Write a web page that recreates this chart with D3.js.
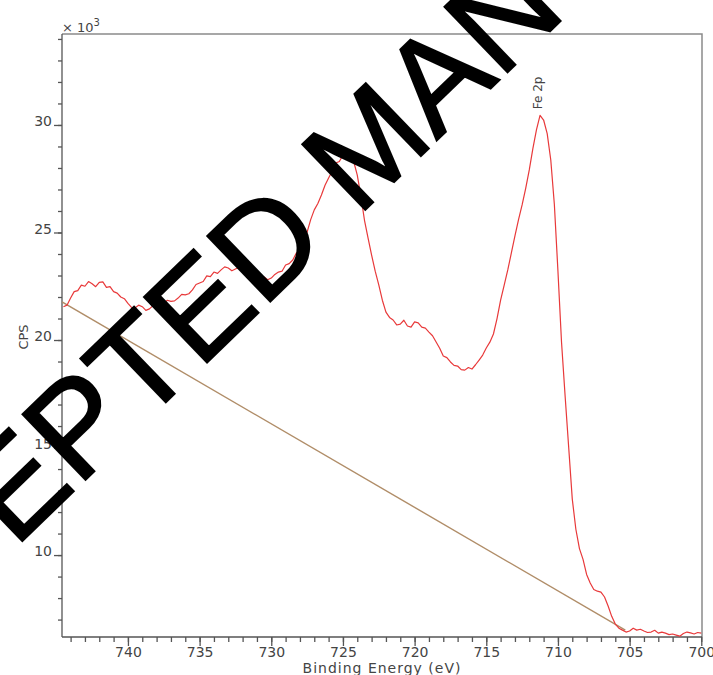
<!DOCTYPE html>
<html>
<head>
<meta charset="utf-8">
<script src="https://cdn.jsdelivr.net/npm/d3@7"></script>
<style>
  body { margin: 0; background: #fff; }
  svg { display: block; }
</style>
</head>
<body>
<div id="chart"></div>
<script>
// binding energy (eV) and counts (x 10^3 CPS)
var energy = [
  744.5, 744.25, 744, 743.75, 743.5, 743.25, 743, 742.75, 742.5, 742.25, 742, 741.75,
  741.5, 741.25, 741, 740.75, 740.5, 740.25, 740, 739.75, 739.5, 739.25, 739, 738.75,
  738.5, 738.25, 738, 737.75, 737.5, 737.25, 737, 736.75, 736.5, 736.25, 736, 735.75,
  735.5, 735.25, 735, 734.75, 734.5, 734.25, 734, 733.75, 733.5, 733.25, 733, 732.75,
  732.5, 732.25, 732, 731.75, 731.5, 731.25, 731, 730.75, 730.5, 730.25, 730, 729.75,
  729.5, 729.25, 729, 728.75, 728.5, 728.25, 728, 727.75, 727.5, 727.25, 727, 726.75,
  726.5, 726.25, 726, 725.75, 725.5, 725.25, 725, 724.75, 724.5, 724.25, 724, 723.75,
  723.5, 723.25, 723, 722.75, 722.5, 722.25, 722, 721.75, 721.5, 721.25, 721, 720.75,
  720.5, 720.25, 720, 719.75, 719.5, 719.25, 719, 718.75, 718.5, 718.25, 718, 717.75,
  717.5, 717.25, 717, 716.75, 716.5, 716.25, 716, 715.75, 715.5, 715.25, 715, 714.75,
  714.5, 714.25, 714, 713.75, 713.5, 713.25, 713, 712.75, 712.5, 712.25, 712, 711.75,
  711.5, 711.25, 711, 710.75, 710.5, 710.25, 710, 709.75, 709.5, 709.25, 709, 708.75,
  708.5, 708.25, 708, 707.75, 707.5, 707.25, 707, 706.75, 706.5, 706.25, 706, 705.75,
  705.5, 705.25, 705, 704.75, 704.5, 704.25, 704, 703.75, 703.5, 703.25, 703, 702.75,
  702.5, 702.25, 702, 701.75, 701.5, 701.25, 701, 700.75, 700.5, 700.25, 700
];
var cps = [
  21.55, 21.62, 21.95, 22.25, 22.30, 22.55, 22.50, 22.72, 22.62, 22.48, 22.68, 22.70,
  22.45, 22.48, 22.25, 22.18, 22.00, 21.92, 21.70, 21.52, 21.50, 21.62, 21.55, 21.38,
  21.45, 21.60, 21.60, 21.58, 21.70, 21.85, 21.80, 21.82, 21.95, 22.12, 22.10, 22.15,
  22.33, 22.58, 22.65, 22.72, 22.98, 22.95, 23.16, 23.10, 23.26, 23.40, 23.35, 23.22,
  23.30, 23.38, 23.26, 23.05, 22.79, 22.95, 22.74, 22.82, 22.93, 22.80, 22.88, 23.05,
  23.16, 23.20, 23.49, 23.55, 23.72, 24.05, 24.19, 24.55, 25.02, 25.60, 26.05, 26.35,
  26.74, 27.20, 27.53, 27.85, 28.23, 28.30, 28.60, 28.48, 28.51, 28.30, 27.67, 26.70,
  25.58, 24.75, 23.95, 23.20, 22.56, 21.85, 21.30, 21.05, 20.93, 20.70, 20.74, 20.92,
  20.65, 20.60, 20.84, 20.80, 20.60, 20.55, 20.37, 20.20, 19.91, 19.62, 19.26, 19.18,
  18.98, 18.82, 18.79, 18.62, 18.60, 18.72, 18.65, 18.85, 19.07, 19.30, 19.63, 19.90,
  20.28, 21.00, 21.86, 22.55, 23.26, 24.05, 24.84, 25.60, 26.28, 27.05, 27.91, 28.90,
  29.77, 30.45, 30.23, 29.60, 28.37, 26.30, 23.20, 19.90, 17.40, 15.00, 12.60, 11.20,
  10.30, 9.80, 9.10, 8.70, 8.40, 8.32, 8.28, 8.05, 7.63, 7.15, 6.79, 6.60,
  6.51, 6.42, 6.47, 6.60, 6.51, 6.55, 6.47, 6.40, 6.42, 6.50, 6.37, 6.42,
  6.37, 6.30, 6.33, 6.28, 6.23, 6.35, 6.42, 6.38, 6.33, 6.40, 6.37
];
// linear background under the Fe 2p region
var bgEnergy = [744.6, 705.3];
var bgCps = [21.77, 6.51];

var xMajor = [740, 735, 730, 725, 720, 715, 710, 705, 700];
var xMinor = d3.range(700, 745, 1);
var yMajor = [10, 15, 20, 25, 30];
var yMinor = d3.range(7, 35, 1);

var peakLabel = { text: "Fe 2p", energy: 711.37, cps: 30.5 };
var watermark = "ACCEPTED MANUSCRIPT";

(function() {
    var W = 713, H = 675;
    var svg = d3.select("#chart").append("svg")
        .attr("width", W)
        .attr("height", H);

    var pl = 62, pr = 702, pt = 34, pb = 637;

    var x = d3.scaleLinear()
        .domain([744.6, 699.95])
        .range([pl, pr]);

    var y = d3.scaleLinear()
        .domain([6.19, 34.23])
        .range([pb, pt]);

    var font = "'DejaVu Sans', Verdana, sans-serif";
    var ink = "#444";

    svg.append("defs").append("clipPath")
        .attr("id", "plot")
        .append("rect")
        .attr("x", pl)
        .attr("y", pt)
        .attr("width", pr - pl)
        .attr("height", pb - pt);

    // frame top and right
    svg.append("path")
        .attr("d", "M" + pl + "," + pt + "H" + pr + "V" + pb)
        .attr("fill", "none")
        .attr("stroke", "#8a8a8a")
        .attr("stroke-width", 1.5);

    // x axis
    var gx = svg.append("g")
        .attr("transform", "translate(0," + pb + ")");

    gx.append("g")
        .call(d3.axisBottom(x).tickValues(xMinor).tickSize(5).tickFormat(""))
        .call(function(g) { g.select(".domain").remove(); });

    gx.append("g")
        .call(d3.axisBottom(x).tickValues(xMajor).tickSize(9).tickPadding(1).tickFormat(d3.format("d")))
        .call(function(g) {
            g.select(".domain").attr("d", "M" + pl + ",0H" + pr);
        });

    gx.selectAll("line, path").attr("stroke", "#555").attr("stroke-width", 1.3);
    gx.selectAll("text")
        .attr("font-family", font)
        .attr("font-size", 14)
        .attr("fill", ink);

    // y axis
    var gy = svg.append("g")
        .attr("transform", "translate(" + pl + ",0)");

    gy.append("g")
        .call(d3.axisLeft(y).tickValues(yMinor).tickSize(4).tickFormat(""))
        .call(function(g) { g.select(".domain").remove(); });

    gy.append("g")
        .call(d3.axisLeft(y).tickValues(yMajor).tickSize(8).tickPadding(2).tickFormat(d3.format("d")))
        .call(function(g) {
            g.select(".domain").attr("d", "M0," + pb + "V" + pt);
        });

    gy.selectAll("line, path").attr("stroke", "#555").attr("stroke-width", 1.3);
    gy.selectAll("text")
        .attr("font-family", font)
        .attr("font-size", 14)
        .attr("fill", ink)
        .attr("dy", "0.05em");

    // axis titles
    svg.append("text")
        .attr("x", (pl + pr) / 2)
        .attr("y", 673)
        .attr("text-anchor", "middle")
        .attr("font-family", font)
        .attr("font-size", 14)
        .attr("letter-spacing", 1)
        .attr("fill", ink)
        .text("Binding Energy (eV)");

    svg.append("text")
        .attr("transform", "translate(28,337) rotate(-90)")
        .attr("text-anchor", "middle")
        .attr("font-family", font)
        .attr("font-size", 13)
        .attr("fill", ink)
        .text("CPS");

    var mult = svg.append("text")
        .attr("x", pl)
        .attr("y", 32)
        .attr("font-family", font)
        .attr("font-size", 13)
        .attr("fill", ink);
    mult.append("tspan").text("\u00d7 10");
    mult.append("tspan").attr("dy", -6).attr("font-size", 10).text("3");

    // lines
    var plot = svg.append("g").attr("clip-path", "url(#plot)");

    var line = d3.line()
        .x(function(d) { return x(d[0]); })
        .y(function(d) { return y(d[1]); });

    plot.append("path")
        .datum(d3.zip(bgEnergy, bgCps))
        .attr("fill", "none")
        .attr("stroke", "#b08d68")
        .attr("stroke-width", 1.4)
        .attr("d", line);

    plot.append("path")
        .datum(d3.zip(energy, cps))
        .attr("fill", "none")
        .attr("stroke", "#e8393a")
        .attr("stroke-width", 1.2)
        .attr("stroke-linejoin", "round")
        .attr("d", line);

    svg.append("text")
        .attr("transform", "translate(" + (x(peakLabel.energy) + 4) + "," + (y(peakLabel.cps) - 5) + ") rotate(-90)")
        .attr("font-family", font)
        .attr("font-size", 12)
        .attr("fill", ink)
        .text(peakLabel.text);

    // watermark over the figure
    svg.append("text")
        .attr("transform", "translate(-186,742) rotate(-44)")
        .attr("font-family", "'Liberation Sans', Arial, sans-serif")
        .attr("font-size", 132)
        .attr("fill", "#000")
        .attr("stroke", "#000")
        .attr("stroke-width", 2)
        .text(watermark);
})();
</script>
</body>
</html>
